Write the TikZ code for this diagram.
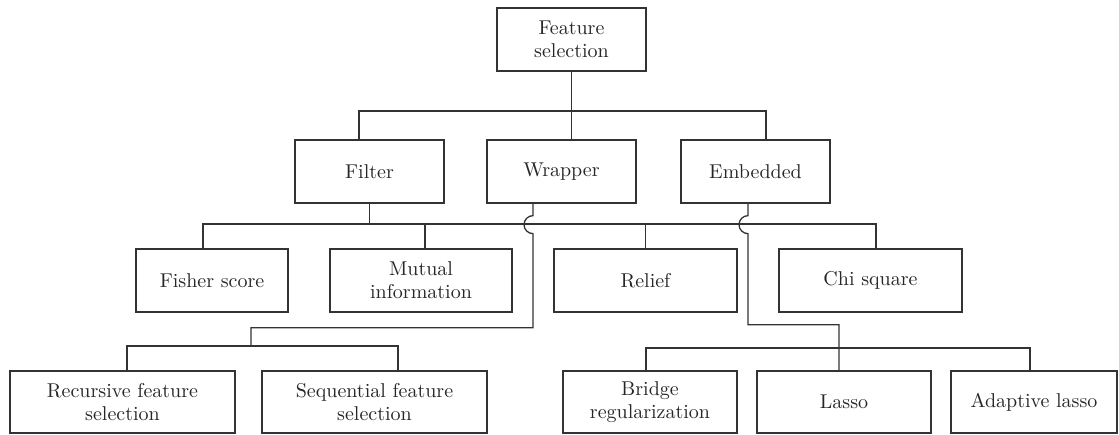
\documentclass[tikz,border=0pt]{standalone}

\begin{document}
\begin{tikzpicture}[x=0.5pt, y=-0.5pt]
            \tikzstyle{fs_node}=[rectangle, draw=black!80, line width=0.65pt, minimum width=74.5pt, minimum height=31.5pt, inner sep=2pt, align=center, text=black!85, font=\fontsize{10}{11.5}\selectfont];
            \tikzstyle{leaf_node}=[fs_node, minimum height=31pt];
            \tikzstyle{link}=[draw=black!80, line width=0.65pt];

            \useasboundingbox (0,0) rectangle (1119,434);

            % Root
            \node(feature_sel) [fs_node] at (571.5,39.5) {Feature\\selection};

            % Methods
            \node(filter) [fs_node] at (369.5,171.5) {Filter};
            \node(wrapper) [fs_node] at (561.5,171.5) {Wrapper};
            \node(embedded) [fs_node] at (755.5,171.5) {Embedded};

            % Filter methods
            \node(fisher) [fs_node, minimum width=76pt] at (212,280.5) {Fisher score};
            \node(mutual) [fs_node, minimum width=91pt] at (421,280.5) {Mutual\\information};
            \node(relief) [fs_node, minimum width=91.5pt] at (645.5,280.5) {Relief};
            \node(chi) [fs_node, minimum width=91.5pt] at (870.5,280.5) {Chi square};

            % Wrapper methods
            \node(recursive) [leaf_node, minimum width=112.5pt] at (122.5,402) {Recursive feature\\selection};
            \node(sequential) [leaf_node, minimum width=112.5pt] at (374.5,402) {Sequential feature\\selection};

            % Embedded methods
            \node(bridge) [leaf_node, minimum width=87pt] at (650,402) {Bridge\\regularization};
            \node(lasso) [leaf_node, minimum width=87pt] at (844,402) {Lasso};
            \node(adaptive) [leaf_node, minimum width=83pt] at (1034,402) {Adaptive lasso};

            % Root to methods
            \coordinate(top_bar) at (571.5,111);
            \draw[link] (feature_sel.south) -- (feature_sel.south |- wrapper.north);
            \draw[link] ([xshift=-5.25pt]filter.north) |- (top_bar) -| ([xshift=5.25pt]embedded.north);

            % Filter
            \coordinate(filter_bar) at (369.5,224);
            \draw[link] (filter.south) -- (filter_bar);
            \draw[link] ([xshift=-4.5pt]fisher.north) |- (filter_bar) -| ([xshift=2.75pt]chi.north);
            \draw[link] ([xshift=2pt]mutual.north) -- ([xshift=2pt]mutual.north |- filter_bar);
            \draw[link] (relief.north) -- (relief.north |- filter_bar);

            % Wrapper (hops over the filter bar)
            \coordinate(wrapper_bar) at (251,346);
            \draw[link] ([xshift=-14.25pt]wrapper.south) -- ++(0,12) arc[start angle=90, end angle=270, radius=4.5pt] -- ++(0,94) -| (wrapper_bar);
            \draw[link] ([xshift=2.25pt]recursive.north) |- (wrapper_bar) -| ([xshift=11.75pt]sequential.north);

            % Embedded (hops over the filter bar)
            \coordinate(embedded_bar) at (839,348);
            \draw[link] ([xshift=-3.75pt]embedded.south) -- ++(0,12) arc[start angle=90, end angle=270, radius=4.5pt] -- ++(0,91) -| (embedded_bar) -- ([xshift=-2.5pt]lasso.north);
            \draw[link] ([xshift=-2pt]bridge.north) |- (embedded_bar) -| ([xshift=-2pt]adaptive.north);
\end{tikzpicture}
\end{document}
